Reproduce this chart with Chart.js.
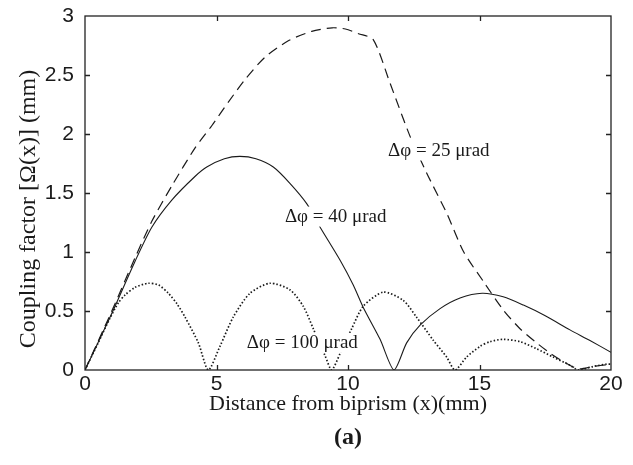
<!DOCTYPE html>
<html>
<head>
<meta charset="utf-8">
<script src="https://cdn.jsdelivr.net/npm/chart.js@4/dist/chart.umd.min.js"></script>
<style>
  body { margin: 0; background: #fff; }
  canvas { display: block; }
</style>
</head>
<body>
<canvas id="couplingChart" width="633" height="465"></canvas>
<script>
// Coupling factor vs distance from the biprism, three tilt angles
const x25 = [0, 1, 1.9, 2.54, 3.3, 4.18, 4.82, 5.45, 6.08, 6.84, 7.73, 8.62, 9.4, 9.9, 10.4, 10.96, 11.6, 12.36, 12.99, 13.75, 14.4, 15.15, 15.9, 16.54, 17.17, 17.7, 18.2, 18.76, 19.33, 20];
const y25 = [0, 0.49, 0.95, 1.26, 1.56, 1.88, 2.07, 2.27, 2.46, 2.65, 2.79, 2.87, 2.9, 2.89, 2.85, 2.8, 2.43, 1.98, 1.67, 1.33, 1.0, 0.75, 0.51, 0.35, 0.23, 0.14, 0.07, 0.01, 0.03, 0.05];

const x40 = [0, 1, 1.9, 2.54, 3.3, 4.18, 4.63, 5.3, 5.89, 6.5, 7.16, 7.8, 8.43, 8.94, 9.7, 10.2, 10.58, 11.22, 11.75, 12.23, 12.74, 13.5, 14.26, 15.1, 15.9, 16.67, 17.5, 18.44, 19.2, 20];
const y40 = [0, 0.47, 0.92, 1.21, 1.44, 1.64, 1.72, 1.79, 1.81, 1.79, 1.72, 1.58, 1.41, 1.21, 0.93, 0.72, 0.53, 0.26, 0, 0.23, 0.38, 0.52, 0.61, 0.65, 0.62, 0.55, 0.46, 0.34, 0.25, 0.15];

const x100 = [0, 0.5, 0.95, 1.27, 1.52, 1.9, 2.4, 2.8, 3.17, 3.5, 3.8, 4.31, 4.69, 5.13, 5.64, 6.27, 7.03, 7.79, 8.3, 8.68, 9.13, 9.38, 9.7, 10.14, 10.58, 11.34, 12.1, 12.6, 13.25, 13.75, 14.07, 14.51, 15.02, 15.4, 15.9, 16.54, 17.17, 17.8, 18.44, 18.76, 19.33, 19.84, 20];
const y100 = [0, 0.23, 0.44, 0.57, 0.635, 0.7, 0.735, 0.72, 0.65, 0.56, 0.45, 0.23, 0, 0.2, 0.45, 0.65, 0.735, 0.68, 0.54, 0.35, 0.12, 0, 0.14, 0.35, 0.54, 0.66, 0.59, 0.45, 0.25, 0.11, 0, 0.11, 0.2, 0.24, 0.26, 0.24, 0.18, 0.11, 0.04, 0, 0.03, 0.05, 0.05];

const xTicks = [0, 5, 10, 15, 20];
const yTicks = [0, 0.5, 1, 1.5, 2, 2.5, 3];

const curveLabels = [
  { text: "Δφ = 25 μrad", x: 11.52, y: 1.86 },
  { text: "Δφ = 40 μrad", x: 7.6, y: 1.30 },
  { text: "Δφ = 100 μrad", x: 6.15, y: 0.23 }
];

const xTitle = "Distance from biprism (x)(mm)";
const yTitle = "Coupling factor [Ω(x)] (mm)";
const panelTag = "(a)";

const ink = "#1a1a1a";
const serif = "'Liberation Serif', 'Times New Roman', serif";

function points(xs, ys) {
  return xs.map((v, i) => ({ x: v, y: ys[i] }));
}

// labels on white patches, box with inward ticks, y title and panel tag
const framePlugin = {
  id: "frame",
  afterDatasetsDraw(chart) {
    const { ctx, chartArea: a, scales: { x, y } } = chart;
    ctx.save();

    ctx.font = "19px " + serif;
    ctx.textBaseline = "middle";
    ctx.textAlign = "left";
    curveLabels.forEach(l => {
      const px = x.getPixelForValue(l.x);
      const py = y.getPixelForValue(l.y);
      const w = ctx.measureText(l.text).width;
      ctx.fillStyle = "#fff";
      ctx.fillRect(px - 3, py - 10, w + 6, 20);
      ctx.fillStyle = ink;
      ctx.fillText(l.text, px, py);
    });

    ctx.strokeStyle = "#222";
    ctx.lineWidth = 1.3;
    ctx.strokeRect(a.left, a.top, a.right - a.left, a.bottom - a.top);
    ctx.beginPath();
    xTicks.slice(1, -1).forEach(v => {
      const px = Math.round(x.getPixelForValue(v)) + 0.5;
      ctx.moveTo(px, a.bottom); ctx.lineTo(px, a.bottom - 5);
      ctx.moveTo(px, a.top); ctx.lineTo(px, a.top + 5);
    });
    yTicks.slice(1, -1).forEach(v => {
      const py = Math.round(y.getPixelForValue(v)) + 0.5;
      ctx.moveTo(a.left, py); ctx.lineTo(a.left + 5, py);
      ctx.moveTo(a.right, py); ctx.lineTo(a.right - 5, py);
    });
    ctx.stroke();

    ctx.fillStyle = ink;
    ctx.textAlign = "center";
    ctx.font = "bold 24px " + serif;
    ctx.fillText(panelTag, (a.left + a.right) / 2, 438);

    ctx.translate(29, 209);
    ctx.rotate(-Math.PI / 2);
    ctx.font = "24px " + serif;
    ctx.fillText(yTitle, 0, 0);
    ctx.restore();
  }
};

new Chart(document.getElementById("couplingChart"), {
  type: "line",
  data: {
    datasets: [
      { label: "25", data: points(x25, y25), borderColor: ink, borderWidth: 1.2, borderDash: [10, 6] },
      { label: "40", data: points(x40, y40), borderColor: ink, borderWidth: 1.1 },
      { label: "100", data: points(x100, y100), borderColor: ink, borderWidth: 1.7, borderDash: [1.5, 2] }
    ]
  },
  options: {
    responsive: false,
    animation: false,
    devicePixelRatio: 1,
    layout: { padding: { left: 0, top: 16, right: 22, bottom: 0 } },
    elements: { point: { radius: 0 }, line: { tension: 0.25, fill: false } },
    plugins: { legend: { display: false }, tooltip: { enabled: false } },
    scales: {
      x: {
        type: "linear",
        min: 0,
        max: 20,
        afterBuildTicks: s => { s.ticks = xTicks.map(v => ({ value: v })); },
        afterFit: s => { s.height = 95; },
        grid: { display: false },
        border: { display: false },
        ticks: { color: ink, padding: -6, maxRotation: 0, font: { family: "'Liberation Sans', Arial", size: 21 } },
        title: { display: true, text: xTitle, color: ink, padding: { top: 0, bottom: 48 }, font: { family: serif, size: 22 } }
      },
      y: {
        min: 0,
        max: 3,
        afterBuildTicks: s => { s.ticks = yTicks.map(v => ({ value: v })); },
        afterFit: s => { s.width = 85; },
        grid: { display: false },
        border: { display: false },
        ticks: { color: ink, padding: 3, callback: v => String(v), font: { family: "'Liberation Sans', Arial", size: 21 } }
      }
    }
  },
  plugins: [framePlugin]
});
</script>
</body>
</html>
